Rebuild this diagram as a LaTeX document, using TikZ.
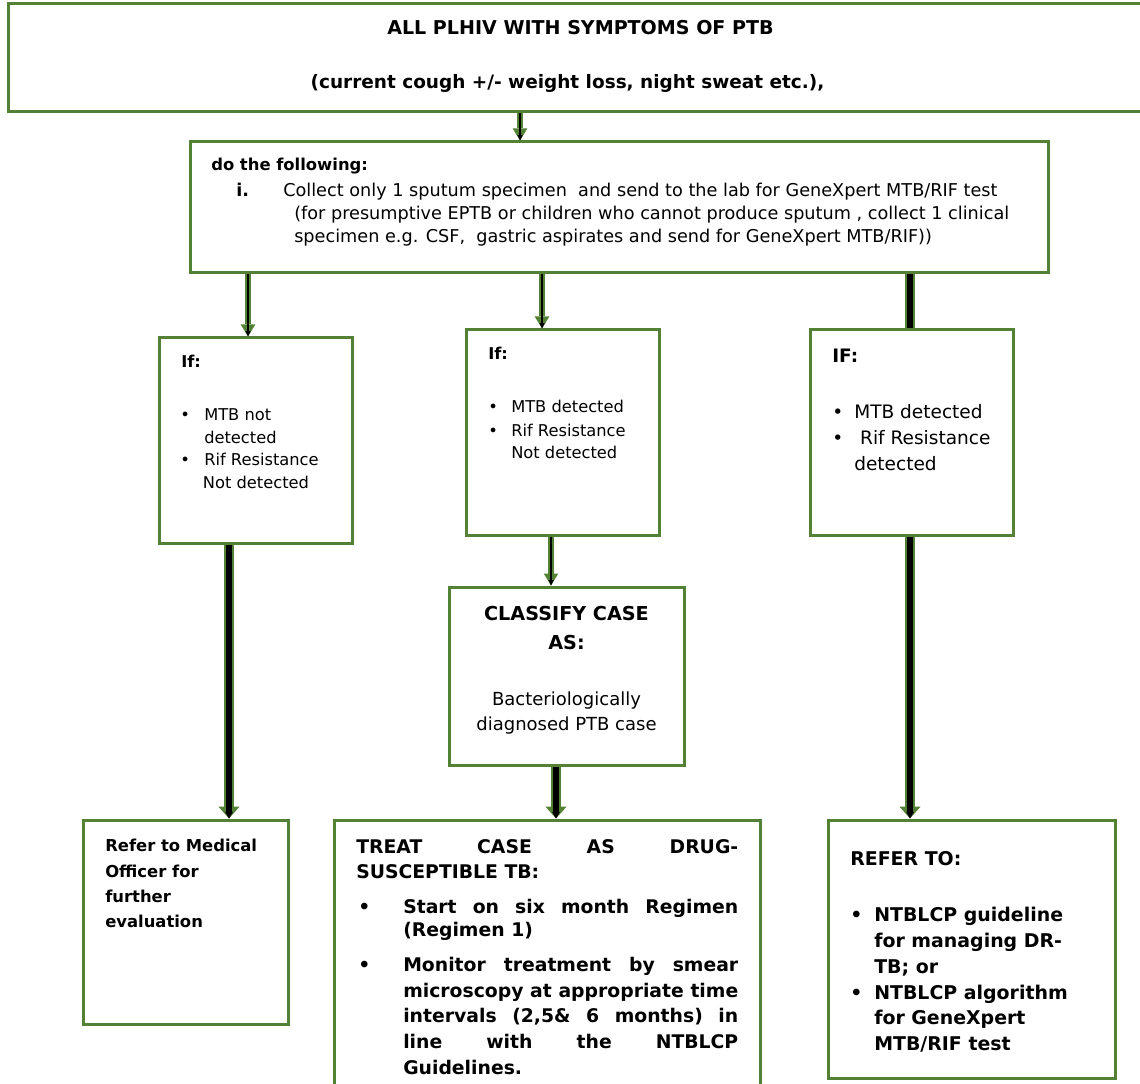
\documentclass[tikz,border=0pt]{standalone}
\usepackage{fontspec}
\setmainfont{DejaVu Sans}
\usepackage{tikz}
\usetikzlibrary{arrows.meta,positioning,fit}
\definecolor{grn}{RGB}{84,130,53}
\newcommand{\fsz}[2]{\fontsize{#1}{#2}\selectfont}
\newcommand{\tbul}[1]{\makebox[#1][l]{\textbullet}}
\newcommand{\tl}[1]{\parbox[t]{330pt}{\raggedright #1}}
\newcommand{\tc}[1]{\parbox[t]{200pt}{\centering #1}}

\begin{document}
\begin{tikzpicture}[x=0.75pt,y=-0.75pt,
  box/.style={draw=grn,line width=2.25pt,inner sep=0pt},
  txt/.style={anchor=base west,inner sep=0pt},
  ctxt/.style={anchor=base,inner sep=0pt},
  thinar/.style={draw=grn,line width=4.5pt,
    -{Triangle[width=11pt,length=9pt,line width=0pt]},
    postaction={draw=black,line width=2pt,-{Triangle[width=4pt,length=4pt,line width=0pt]}}},
  thickar/.style={draw=grn,line width=7.5pt,
    -{Triangle[width=16pt,length=9pt,line width=0pt]},
    postaction={draw=black,line width=4.5pt,-{Triangle[width=6pt,length=5pt,line width=0pt]}}},
  thickbar/.style={draw=grn,line width=7.5pt,postaction={draw=black,line width=4.5pt}}]

\useasboundingbox (0,0) rectangle (1140,1084);

% top
\node[box,fit={(8,4) (1150,112)}] (plhiv) {};
\node[ctxt,font=\bfseries\fsz{14.3}{17}] (title) at (580.5,35) {ALL PLHIV WITH SYMPTOMS OF PTB};
\node[ctxt,font=\bfseries\fsz{13.85}{17}] (symp) at (567.5,89) {(current cough +/- weight loss, night sweat etc.),};

% specimen
\node[box,fit={(190,142) (1048,273)}] (dofollow) {};
\node[txt,font=\bfseries\fsz{12.3}{17}] (dohead) at (211,171) {do the following:};
\node[txt,font=\bfseries\fsz{13.2}{17.25}] (num) at (236,197) {i.};
\node[txt,font=\fsz{13.25}{17.25}] (collect) at (283,197)
  {\parbox[t]{560pt}{\raggedright
   Collect only 1 sputum specimen\ \ and send to the lab for GeneXpert MTB/RIF test\\
   \hspace*{8.25pt}(for presumptive EPTB or children who cannot produce sputum , collect 1 clinical\\
   \hspace*{8.25pt}specimen e.g. CSF,\ \ gastric aspirates and send for GeneXpert MTB/RIF))}};

% results
\node[box,fit={(159,338) (352,543)}] (notdet) {};
\node[txt,font=\bfseries\fsz{12.2}{17}] (if1) at (181,368) {If:};
\node[txt,font=\fsz{12.2}{16.9}] (res1) at (180,420.7)
  {\tl{\tbul{18pt}MTB not\\\hspace*{18pt}detected\\\tbul{18pt}Rif Resistance\\\hspace*{17pt}Not detected}};

\node[box,fit={(466,330) (659,535)}] (mtbdet) {};
\node[txt,font=\bfseries\fsz{12.2}{17}] (if2) at (488,360) {If:};
\node[txt,font=\fsz{12.2}{17.25}] (res2) at (488,413)
  {\tl{\tbul{17.25pt}MTB detected\\\tbul{17.25pt}Rif Resistance\\\hspace*{17.25pt}Not detected}};

\node[box,fit={(810,330) (1013,535)}] (rifdet) {};
\node[txt,font=\bfseries\fsz{13.9}{19}] (if3) at (832,362.7) {IF:};
\node[txt,font=\fsz{13.9}{19.5}] (res3) at (832,418.3)
  {\tl{\tbul{16.5pt}MTB detected\\\tbul{16.5pt}\ Rif Resistance\\\hspace*{16.5pt}detected}};

% classify
\node[box,fit={(449,587) (684,765)}] (classify) {};
\node[ctxt,font=\bfseries\fsz{14.4}{21.75}] (clhead) at (566.5,620) {\tc{CLASSIFY CASE\\AS:}};
\node[ctxt,font=\fsz{13.5}{18.75}] (clbody) at (566.5,705) {\tc{Bacteriologically\\diagnosed PTB case}};

% outcomes
\node[box,fit={(83,820) (288,1024)}] (medoff) {};
\node[txt,font=\bfseries\fsz{12.3}{19}] (medtxt) at (105,851.7)
  {\tl{Refer to Medical\\Officer for\\further\\evaluation}};

\node[box,fit={(334,820) (760,1100)}] (treat) {};
\node[txt,font=\bfseries\fsz{14.1}{18.75}] (trhead) at (356,853.3)
  {\tl{\makebox[286.5pt][s]{TREAT CASE AS DRUG-}\\SUSCEPTIBLE TB:}};
\node[txt,font=\bfseries\fsz{14.1}{17.5}] (trb1) at (358,913.3)
  {\tl{\tbul{33.75pt}\makebox[251.25pt][s]{Start on six month Regimen}\\
   \hspace*{33.75pt}(Regimen 1)}};
\node[txt,font=\bfseries\fsz{14.1}{19.2}] (trb2) at (358,971.7)
  {\tl{\tbul{33.75pt}\makebox[251.25pt][s]{Monitor treatment by smear}\\
   \hspace*{33.75pt}\makebox[251.25pt][s]{microscopy at appropriate time}\\
   \hspace*{33.75pt}\makebox[251.25pt][s]{intervals (2,5\& 6 months) in}\\
   \hspace*{33.75pt}\makebox[251.25pt][s]{line with the NTBLCP}\\
   \hspace*{33.75pt}Guidelines.}};

\node[box,fit={(828,820) (1115,1078)}] (referto) {};
\node[txt,font=\bfseries\fsz{14.2}{19.35}] (rfhead) at (850,865) {REFER TO:};
\node[txt,font=\bfseries\fsz{14.2}{19.35}] (rflist) at (850,921.7)
  {\tl{\tbul{18pt}NTBLCP guideline\\\hspace*{18pt}for managing DR-\\\hspace*{18pt}TB; or\\
   \tbul{18pt}NTBLCP algorithm\\\hspace*{18pt}for GeneXpert\\\hspace*{18pt}MTB/RIF test}};

\draw[thinar] (520,0 |- plhiv.south) -- (520,0 |- dofollow.north);
\draw[thinar] (248,0 |- dofollow.south) -- (248,0 |- notdet.north);
\draw[thinar] (542,0 |- dofollow.south) -- (542,0 |- mtbdet.north);
\draw[thickbar] (910,0 |- dofollow.south) -- (910,0 |- rifdet.north);
\draw[thickar] (229,0 |- notdet.south) -- (229,0 |- medoff.north);
\draw[thinar] (551,0 |- mtbdet.south) -- (551,0 |- classify.north);
\draw[thickar] (556,0 |- classify.south) -- (556,0 |- treat.north);
\draw[thickar] (910,0 |- rifdet.south) -- (910,0 |- referto.north);
\end{tikzpicture}
\end{document}
